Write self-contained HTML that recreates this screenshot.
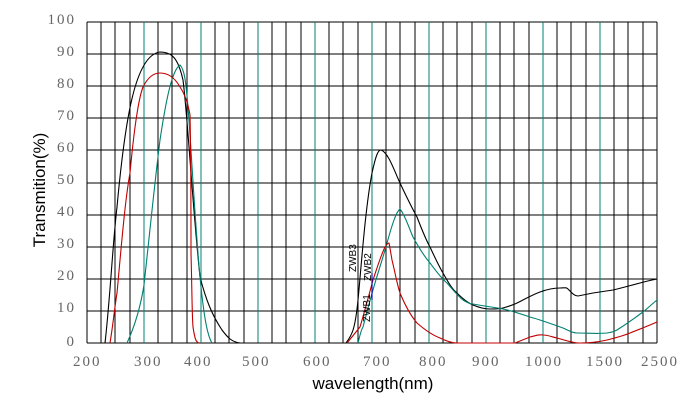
<!DOCTYPE html>
<html><head><meta charset="utf-8"><style>
html,body{margin:0;padding:0;background:#fff;}
svg{display:block;}
.t{font-family:"Liberation Serif",serif;font-size:15px;fill:#666;letter-spacing:2px;}
.s{font-family:"Liberation Sans",sans-serif;font-size:17px;fill:#000;}
.z{font-family:"Liberation Sans",sans-serif;font-size:10px;fill:#000;}
</style></head><body>
<svg width="697" height="404" viewBox="0 0 697 404" xmlns="http://www.w3.org/2000/svg">
<rect width="697" height="404" fill="#fff"/>
<g stroke-width="1.2" shape-rendering="crispEdges" fill="none">
<path stroke="#000" d="M87,22V343 M101,22V343 M115,22V343 M130,22V343 M158,22V343 M172,22V343 M187,22V343 M215,22V343 M229,22V343 M244,22V343 M272,22V343 M286,22V343 M301,22V343 M329,22V343 M343,22V343 M358,22V343 M386,22V343 M400,22V343 M415,22V343 M443,22V343 M457,22V343 M472,22V343 M500,22V343 M514,22V343 M529,22V343 M557,22V343 M571,22V343 M586,22V343 M614,22V343 M628,22V343 M643,22V343 M657,22V343
M87,22H657 M87,54H657 M87,86H657 M87,118H657 M87,150H657 M87,183H657 M87,215H657 M87,247H657 M87,279H657 M87,311H657 M87,343H657"/>
<path stroke="#008070" d="M144,22V343 M201,22V343 M258,22V343 M315,22V343 M372,22V343 M429,22V343 M486,22V343 M543,22V343 M600,22V343"/>
</g>
<g fill="none" stroke-width="1.1">
<path stroke="#000" d="M105,343 C110,300 113,240 117,207 C125,120 135,55 160,52 C172,52 178,58 183,80 C188,120 192,200 200,277 C206,300 212,315 222,330 C228,338 232,342 240,343 L346,343 C352,335 355,330 358,300 C361,270 365,210 372,173 C376,155 378,150 381,150 C388,152 394,170 400,183 C408,200 412,208 417,217 C422,230 426,240 430,247 C436,260 440,268 443,273 C448,282 452,289 457,293 C463,299 468,303 473,305 C480,308 485,309 490,309 C496,309 500,309 503,308 C510,306 513,305 517,303 C525,299 532,295 540,292 C548,289 554,288 560,288 C565,288 566,287 568,289 C571,292 574,296 578,296 C583,295 588,294 593,293 C600,292 606,291 613,290 C622,288 632,285 640,283 C647,281 652,280 657,279"/>
<path stroke="#008070" d="M127,343 C133,330 140,310 144,285 C150,230 155,180 160,140 C166,100 172,70 180,65 C185,70 186,85 188,107 C192,160 196,240 201,287 C204,315 207,335 212,343 M358,343 C360,335 361,330 363,327 C367,312 370,300 373,290 C378,272 383,258 387,243 C392,225 396,212 400,209 C405,215 409,228 413,237 C419,248 424,256 430,263 C436,271 441,278 447,283 C453,290 458,296 463,300 C468,303 470,304 473,304 C483,306 493,307 503,309 C512,311 521,314 530,317 C541,320 552,324 563,328 C568,330 572,333 577,333 C587,333 597,334 607,333 C613,332 616,331 620,328 C628,323 636,317 643,312 C648,308 652,304 657,300"/>
<path stroke="#c00000" d="M110,343 C113,325 115,305 117,293 C121,250 125,200 130,173 C134,130 138,100 143,87 C148,77 154,73 160,73 C168,73 175,78 180,87 C184,93 188,103 190,115 C191,160 191,220 191,253 C192,290 192,315 193,327 C195,340 196,342 199,343 M347,343 C352,337 356,332 360,327 C365,310 369,295 373,280 C377,268 381,255 385,247 C387,244 388,243 389,243 C390,248 391,254 392,260 C395,272 397,284 400,293 C405,305 411,316 417,323 C425,330 432,335 440,338 C446,341 451,343 457,343 L515,343 C520,341 525,339 530,337 C535,336 539,334 543,335 C548,335 552,337 557,338 C565,340 572,343 580,343 C590,343 598,342 607,340 C615,338 623,336 630,333 C640,329 648,326 657,322"/>
<path stroke="#0000c0" d="M372,273 L372,300"/>
</g>
<g>
<text class="z" transform="translate(356,272) rotate(-90)">ZWB3</text>
<text class="z" transform="translate(371,281) rotate(-90)">ZWB2</text>
<text class="z" transform="translate(370,322) rotate(-90)">ZWB1</text>
</g>
<g class="t" text-anchor="end">
<text x="76" y="24">100</text><text x="76" y="56">90</text><text x="76" y="88">80</text><text x="76" y="120">70</text><text x="76" y="152">60</text><text x="76" y="184">50</text><text x="76" y="216">40</text><text x="76" y="248">30</text><text x="76" y="280">20</text><text x="76" y="312">10</text><text x="76" y="346">0</text>
</g>
<g class="t">
<text x="73" y="366">200</text><text x="134" y="366">300</text><text x="184" y="366">400</text><text x="242" y="366">500</text><text x="303" y="366">600</text><text x="363" y="366">700</text><text x="419" y="366">800</text><text x="472" y="366">900</text><text x="525" y="366">1000</text><text x="586" y="366">1500</text><text x="641" y="366">2500</text>
</g>
<text class="s" x="373" y="389" text-anchor="middle">wavelength(nm)</text>
<text class="s" transform="translate(45,190) rotate(-90)" text-anchor="middle">Transmition(%)</text>
</svg>
</body></html>
